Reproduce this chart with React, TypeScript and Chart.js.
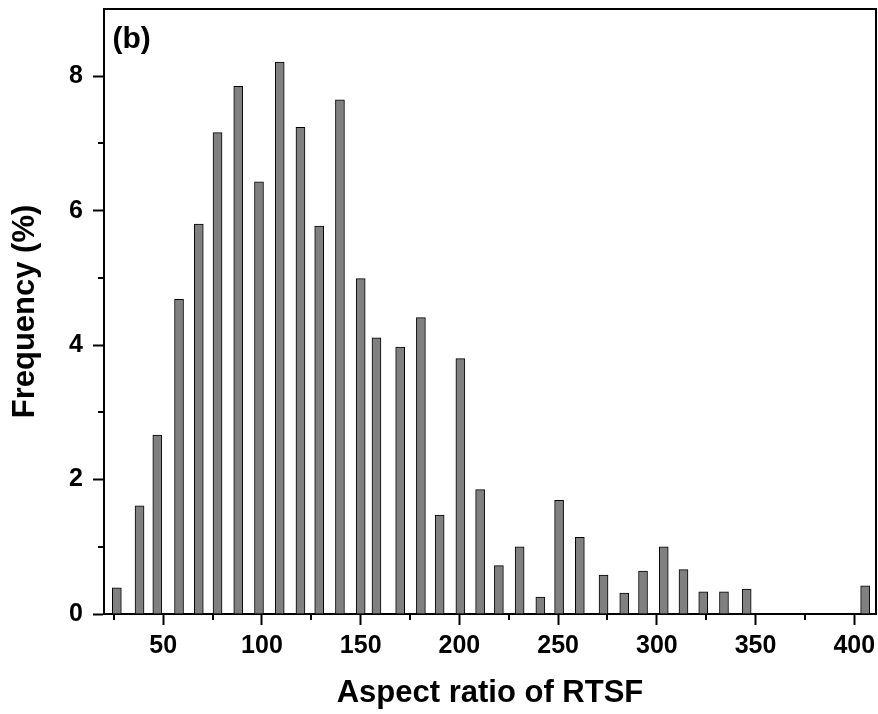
import React, { useEffect, useRef } from "react";
import { Chart, registerables } from "chart.js";

Chart.register(...registerables);

// ---- data ----
const binCenters = [
  26.5, 38, 47, 58, 68, 77.5, 88, 98.5, 109, 119.5, 129, 139.5, 150, 158, 170,
  180.5, 190, 200.5, 210.5, 220, 230.5, 241, 250.5, 261, 273, 283.5, 293,
  303.5, 313.5, 323.5, 334, 345.5, 405.5,
];
const frequencies = [
  0.39, 1.61, 2.66, 4.68, 5.8, 7.16, 7.85, 6.43, 8.21, 7.24, 5.77, 7.65, 4.99,
  4.11, 3.97, 4.41, 1.47, 3.8, 1.85, 0.72, 1.0, 0.25, 1.69, 1.14, 0.58, 0.31,
  0.64, 1.0, 0.66, 0.33, 0.33, 0.37, 0.42,
];
const xMajorTicks = [50, 100, 150, 200, 250, 300, 350, 400];
const xMinorTicks = [25, 75, 125, 175, 225, 275, 325, 375];
const yMajorTicks = [0, 2, 4, 6, 8];
const yMinorTicks = [1, 3, 5, 7];
const xTitle = "Aspect ratio of RTSF";
const yTitle = "Frequency (%)";
const panelLabel = "(b)";

const FONT = '"Liberation Sans", Arial, sans-serif';

const framePlugin = {
  id: "frame",
  afterDraw(chart: any) {
    const { ctx, chartArea: a, scales } = chart;
    ctx.save();
    ctx.strokeStyle = "#000";
    ctx.lineWidth = 2;
    ctx.beginPath();
    ctx.moveTo(a.left, a.top);
    ctx.lineTo(a.right, a.top);
    ctx.lineTo(a.right, a.bottom);
    ctx.stroke();
    ctx.beginPath();
    xMinorTicks.forEach((v) => {
      const px = Math.round(scales.x.getPixelForValue(v));
      ctx.moveTo(px, a.bottom);
      ctx.lineTo(px, a.bottom + 6);
    });
    yMinorTicks.forEach((v) => {
      const py = Math.round(scales.y.getPixelForValue(v));
      ctx.moveTo(a.left, py);
      ctx.lineTo(a.left - 6, py);
    });
    ctx.stroke();
    ctx.fillStyle = "#000";
    ctx.font = `bold 30px ${FONT}`;
    ctx.textBaseline = "alphabetic";
    ctx.textAlign = "left";
    ctx.fillText(panelLabel, a.left + 8.5, a.top + 39);
    ctx.restore();
  },
};

export default function App() {
  const ref = useRef<HTMLCanvasElement | null>(null);
  useEffect(() => {
    document.body.style.margin = "0";
    const canvas = ref.current!;
    const chart = new Chart(canvas, {
      type: "bar",
      data: {
        datasets: [
          {
            data: binCenters.map((x, i) => ({ x, y: frequencies[i] })),
            backgroundColor: "#808080",
            borderColor: "#000",
            borderWidth: 1,
            barThickness: 9,
          },
        ],
      },
      options: {
        animation: false,
        responsive: false,
        layout: { padding: { top: 9, right: 2, left: 0, bottom: 0 } },
        plugins: { legend: { display: false }, tooltip: { enabled: false } },
        scales: {
          x: {
            type: "linear",
            min: 20,
            max: 411,
            offset: false,
            grid: {
              offset: false,
              drawOnChartArea: false,
              drawTicks: true,
              tickLength: 11,
              tickWidth: 2,
              tickColor: "#000",
            },
            border: { display: true, color: "#000", width: 2 },
            ticks: {
              color: "#000",
              font: { family: FONT, size: 25, weight: "bold" },
              padding: 6,
              maxRotation: 0,
              autoSkip: false,
            },
            afterBuildTicks: (scale: any) => {
              scale.ticks = xMajorTicks.map((v) => ({ value: v }));
            },
            afterFit: (scale: any) => {
              scale.height = 100;
              scale.paddingLeft = 0;
              scale.paddingRight = 0;
            },
            title: {
              display: true,
              text: xTitle,
              color: "#000",
              font: { family: FONT, size: 31, weight: "bold" },
              padding: { top: 0, bottom: 2 },
            },
          },
          y: {
            type: "linear",
            min: 0,
            max: 9,
            grid: {
              drawOnChartArea: false,
              drawTicks: true,
              tickLength: 11,
              tickWidth: 2,
              tickColor: "#000",
            },
            border: { display: true, color: "#000", width: 2 },
            ticks: {
              color: "#000",
              font: { family: FONT, size: 25, weight: "bold" },
              padding: 10,
              autoSkip: false,
            },
            afterBuildTicks: (scale: any) => {
              scale.ticks = yMajorTicks.map((v) => ({ value: v }));
            },
            afterFit: (scale: any) => {
              scale.width = 104;
              scale.paddingTop = 0;
              scale.paddingBottom = 0;
            },
            title: {
              display: true,
              text: yTitle,
              color: "#000",
              font: { family: FONT, size: 31, weight: "bold" },
              padding: { top: 7, bottom: 0 },
            },
          },
        },
      },
      plugins: [framePlugin],
    });
    return () => chart.destroy();
  }, []);
  return (
    <div style={{ position: "fixed", left: 0, top: 0, width: 878, height: 714, background: "#fff" }}>
      <canvas ref={ref} width={878} height={714} />
    </div>
  );
}
